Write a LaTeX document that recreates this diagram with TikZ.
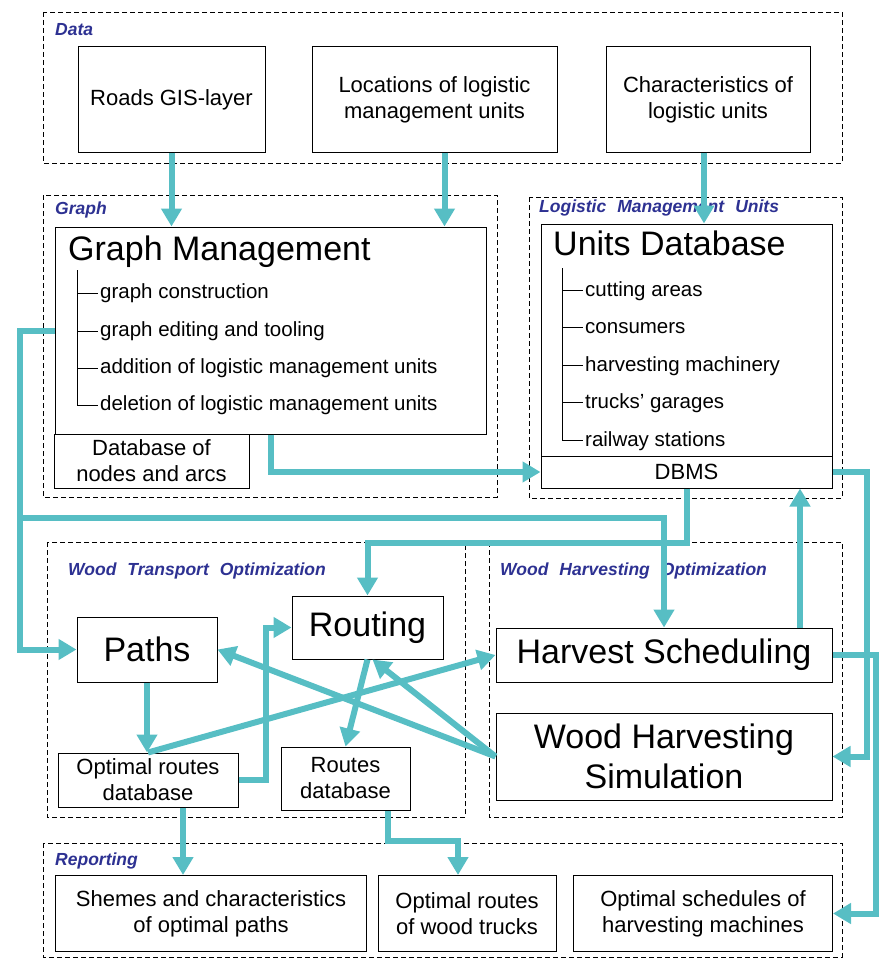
\documentclass[tikz,border=0pt]{standalone}
\usepackage{fontspec}
\setmainfont{Liberation Sans}
\usetikzlibrary{arrows.meta}
\definecolor{flowteal}{RGB}{87,190,196}
\definecolor{labelblue}{RGB}{45,49,146}
\newcommand{\widespaces}{\spaceskip=11pt\relax}

\begin{document}
\begin{tikzpicture}[x=1pt,y=-1pt,
	box/.style={draw,line width=1pt,fill=white,inner sep=0pt,align=center,font=\fontsize{22}{26}\selectfont},
	bigbox/.style={box,font=\fontsize{34}{40}\selectfont},
	group/.style={draw,line width=0.8pt,dash pattern=on 5pt off 3pt},
	grouplabel/.style={anchor=west,inner sep=0pt,text=labelblue,font=\fontsize{17.5}{20}\selectfont\bfseries\itshape\widespaces},
	title/.style={anchor=base west,inner sep=0pt,font=\fontsize{34}{40}\selectfont},
	item/.style={anchor=base west,inner sep=0pt,font=\fontsize{20.5}{24}\selectfont},
	flow/.style={draw=flowteal,line width=6pt,-{Triangle[length=18pt,width=20pt]}}]
	\useasboundingbox (0,0) rectangle (882,958);
	% Data
	\draw[group] (43,12) rectangle (842,163);
		\node[grouplabel] (datalabel) at (55,30) {Data};
		\node[box,minimum width=187,minimum height=105] (roads) at (171.5,99.5) {Roads GIS-layer};
		\node[box,minimum width=245,minimum height=105] (locations) at (434.5,99.5) {Locations of logistic\\management units};
		\node[box,minimum width=204,minimum height=105] (charact) at (708,99.5) {Characteristics of\\logistic units};
	% Graph
	\draw[group] (43,195) rectangle (497,497);
		\node[grouplabel] (graphlabel) at (55,210) {Graph};
		\node[box,minimum width=431,minimum height=207] (gm) at (270.5,330.5) {};
		\node[title] (gmtitle) at (68,260) {Graph Management};
		%Tree
		\draw[line width=1pt] (77,270) -- (77,405);
		\foreach \y/\t [count=\i] in {293/graph construction,331/graph editing and tooling,368/addition of logistic management units,405/deletion of logistic management units}
		{
			\draw[line width=1pt] (77,\y) -- (98,\y);
			\node[item] (gmitem\i) at (100,\y+5.5) {\t};
		}
		\node[box,minimum width=195,minimum height=54] (dbna) at (151.5,461) {Database of\\nodes and arcs};
	% Logistic Management Units
	\draw[group] (529,197) rectangle (842,498);
		\node[grouplabel] (lmulabel) at (539,208) {Logistic Management Units};
		\node[box,minimum width=291,minimum height=232] (udb) at (686.5,340) {};
		\node[title] (udbtitle) at (553,255) {Units Database};
		%Tree
		\draw[line width=1pt] (562,268) -- (562,440);
		\foreach \t [count=\i] in {cutting areas,consumers,harvesting machinery,trucks' garages,railway stations}
		{
			\draw[line width=1pt] (562,252.5+37.5*\i) -- (583,252.5+37.5*\i);
			\node[item] (udbitem\i) at (585,258.5+37.5*\i) {\t};
		}
		\node[box,minimum width=291,minimum height=32] (dbms) at (686.5,472) {DBMS};
	% Wood Transport Optimization
	\draw[group] (47,542) rectangle (465,817);
		\node[grouplabel] (wtolabel) at (68,571) {Wood Transport Optimization};
		\node[bigbox,minimum width=140,minimum height=65] (paths) at (147,649.5) {Paths};
		\node[bigbox,minimum width=151,minimum height=63] (routing) at (367.5,627.5) {Routing};
		\node[box,minimum width=180,minimum height=54] (ordb) at (148,780) {Optimal routes\\database};
		\node[box,minimum width=129,minimum height=63] (rdb) at (345.5,778.5) {Routes\\database};
	% Wood Harvesting Optimization
	\draw[group] (489,542) rectangle (842,817);
		\node[grouplabel] (wholabel) at (500,571) {Wood Harvesting Optimization};
		\node[bigbox,minimum width=336,minimum height=54] (hs) at (664,655) {Harvest Scheduling};
		\node[bigbox,minimum width=336,minimum height=87] (whs) at (664,756.5) {Wood Harvesting\\Simulation};
	% Reporting
	\draw[group] (43,843) rectangle (842,957);
		\node[grouplabel] (replabel) at (55,861) {Reporting};
		\node[box,minimum width=311,minimum height=76] (shemes) at (211,913.5) {Shemes and characteristics\\of optimal paths};
		\node[box,minimum width=178,minimum height=76] (trucks) at (467,913.5) {Optimal routes\\of wood trucks};
		\node[box,minimum width=259,minimum height=76] (osched) at (703,913.5) {Optimal schedules of\\harvesting machines};
	% Connectors
	\coordinate (lbus) at (20,518);
	\coordinate (hsup) at (800,628);
	\draw[flow] (roads.south) -- (roads.south |- gm.north);
	\draw[flow] ([xshift=10]locations.south) -- ([xshift=10]locations.south |- gm.north);
	\draw[flow] ([xshift=-4]charact.south) -- ([xshift=-4]charact.south |- udb.north);
	\draw[flow] (gm.west) -- (gm.west -| lbus) |- (paths.west);
	\draw[flow] (lbus) -| (hs.north);
	\draw[flow] (gm.south) |- (dbms.west);
	\draw[flow] (dbms.south) -- ++(0,54) -| (routing.north);
	\draw[flow] (hsup) -- (hsup |- dbms.south);
	\draw[flow] (dbms.east) -- ++(34,0) |- (whs.east);
	\draw[flow] (hs.east) -- ++(43,0) |- (osched.east);
	\draw[flow] (paths.south) -- (paths.south |- ordb.north);
	\draw[flow] (ordb.north) -- (hs.west);
	\draw[flow] (ordb.east) -- ++(27,0) |- (routing.west);
	\draw[flow] (routing.south) -- (rdb.north);
	\draw[flow] (whs.west) -- (paths.east);
	\draw[flow] (whs.west) -- ([xshift=5]routing.south);
	\draw[flow] ([xshift=35]ordb.south) -- ([xshift=35]ordb.south |- shemes.north);
	\draw[flow] ([xshift=42]rdb.south) -- ++(0,30) -| ([xshift=-9]trucks.north);
\end{tikzpicture}
\end{document}
